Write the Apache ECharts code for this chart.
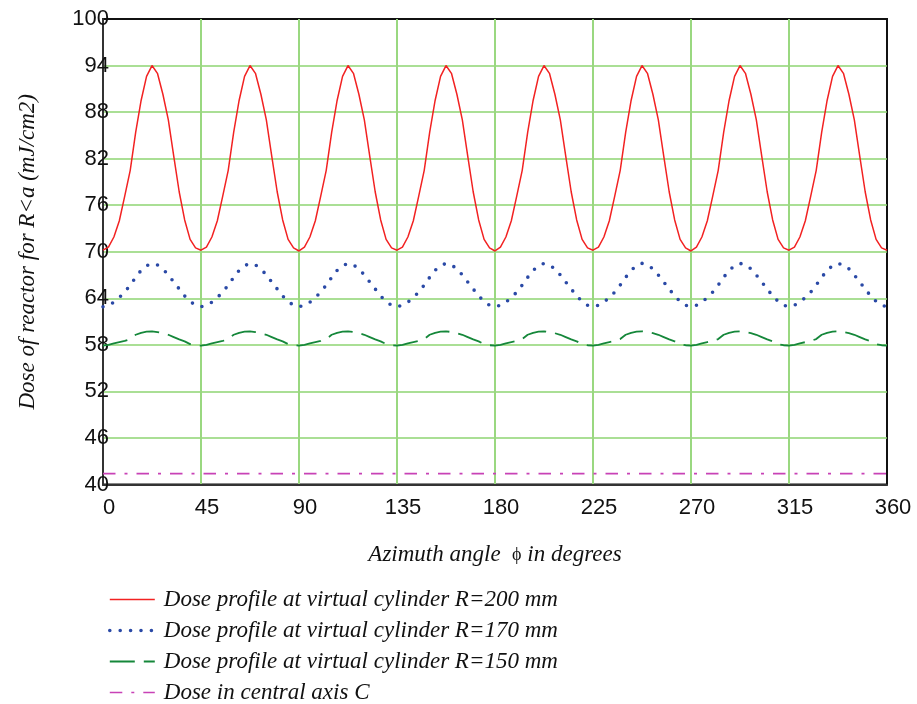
<!DOCTYPE html>
<html>
<head>
<meta charset="utf-8">
<script src="https://cdn.jsdelivr.net/npm/echarts@6/dist/echarts.min.js"></script>
<style>
  html, body { margin: 0; padding: 0; background: #fff; }
  #chart { width: 917px; height: 704px; }
</style>
</head>
<body>
<div id="chart"></div>
<script>
// azimuth sample positions (degrees)
const angles = [
  0, 2.5, 5, 7.5, 10, 12.5, 15, 17.5, 20, 22.5, 25, 27.5, 30, 32.5, 35, 37.5, 40, 42.5,
  45, 47.5, 50, 52.5, 55, 57.5, 60, 62.5, 65, 67.5, 70, 72.5, 75, 77.5, 80, 82.5, 85, 87.5,
  90, 92.5, 95, 97.5, 100, 102.5, 105, 107.5, 110, 112.5, 115, 117.5, 120, 122.5, 125, 127.5, 130, 132.5,
  135, 137.5, 140, 142.5, 145, 147.5, 150, 152.5, 155, 157.5, 160, 162.5, 165, 167.5, 170, 172.5, 175, 177.5,
  180, 182.5, 185, 187.5, 190, 192.5, 195, 197.5, 200, 202.5, 205, 207.5, 210, 212.5, 215, 217.5, 220, 222.5,
  225, 227.5, 230, 232.5, 235, 237.5, 240, 242.5, 245, 247.5, 250, 252.5, 255, 257.5, 260, 262.5, 265, 267.5,
  270, 272.5, 275, 277.5, 280, 282.5, 285, 287.5, 290, 292.5, 295, 297.5, 300, 302.5, 305, 307.5, 310, 312.5,
  315, 317.5, 320, 322.5, 325, 327.5, 330, 332.5, 335, 337.5, 340, 342.5, 345, 347.5, 350, 352.5, 355, 357.5,
  360
];

// R = 200 mm
const doseR200 = [
  70.2, 70.6, 71.9, 74.0, 77.2, 80.5, 85.4, 89.5, 92.6, 94.0, 93.0, 90.3, 87.0, 82.3, 77.7, 74.1, 71.6, 70.5,
  70.2, 70.6, 71.9, 74.0, 77.2, 80.5, 85.4, 89.5, 92.6, 94.0, 93.0, 90.3, 87.0, 82.3, 77.7, 74.1, 71.6, 70.5,
  70.1, 70.6, 71.9, 74.0, 77.2, 80.5, 85.4, 89.5, 92.6, 94.0, 93.0, 90.3, 87.0, 82.3, 77.7, 74.1, 71.6, 70.5,
  70.2, 70.6, 71.9, 74.0, 77.2, 80.5, 85.4, 89.5, 92.6, 94.0, 93.0, 90.3, 87.0, 82.3, 77.7, 74.1, 71.6, 70.5,
  70.1, 70.6, 71.9, 74.0, 77.2, 80.5, 85.4, 89.5, 92.6, 94.0, 93.0, 90.3, 87.0, 82.3, 77.7, 74.1, 71.6, 70.5,
  70.2, 70.6, 71.9, 74.0, 77.2, 80.5, 85.4, 89.5, 92.6, 94.0, 93.0, 90.3, 87.0, 82.3, 77.7, 74.1, 71.6, 70.5,
  70.1, 70.6, 71.9, 74.0, 77.2, 80.5, 85.4, 89.5, 92.6, 94.0, 93.0, 90.3, 87.0, 82.3, 77.7, 74.1, 71.6, 70.5,
  70.2, 70.6, 71.9, 74.0, 77.2, 80.5, 85.4, 89.5, 92.6, 94.0, 93.0, 90.3, 87.0, 82.3, 77.7, 74.1, 71.6, 70.5,
  70.2
];

// R = 170 mm
const doseR170 = [
  62.9, 63.1, 63.5, 64.1, 64.8, 65.7, 66.7, 67.6, 68.2, 68.5, 68.3, 67.8, 67.0, 66.1, 65.2, 64.3, 63.6, 63.1,
  62.9, 63.1, 63.5, 64.1, 64.8, 65.7, 66.7, 67.6, 68.2, 68.5, 68.3, 67.8, 67.0, 66.1, 65.2, 64.3, 63.6, 63.1,
  62.9, 63.1, 63.5, 64.1, 64.8, 65.7, 66.7, 67.6, 68.2, 68.5, 68.3, 67.8, 67.0, 66.1, 65.2, 64.3, 63.6, 63.1,
  62.9, 63.1, 63.5, 64.1, 64.8, 65.7, 66.7, 67.6, 68.2, 68.5, 68.3, 67.8, 67.0, 66.1, 65.2, 64.3, 63.6, 63.1,
  62.9, 63.1, 63.5, 64.1, 64.8, 65.7, 66.7, 67.6, 68.2, 68.5, 68.3, 67.8, 67.0, 66.1, 65.2, 64.3, 63.6, 63.1,
  62.9, 63.1, 63.5, 64.1, 64.8, 65.7, 66.7, 67.6, 68.2, 68.5, 68.3, 67.8, 67.0, 66.1, 65.2, 64.3, 63.6, 63.1,
  62.9, 63.1, 63.5, 64.1, 64.8, 65.7, 66.7, 67.6, 68.2, 68.5, 68.3, 67.8, 67.0, 66.1, 65.2, 64.3, 63.6, 63.1,
  62.9, 63.1, 63.5, 64.1, 64.8, 65.7, 66.7, 67.6, 68.2, 68.5, 68.3, 67.8, 67.0, 66.1, 65.2, 64.3, 63.6, 63.1,
  62.9
];

// R = 150 mm
const doseR150 = [
  57.9, 58.0, 58.2, 58.35, 58.5, 58.75, 59.3, 59.55, 59.7, 59.75, 59.65, 59.5, 59.3, 59.0, 58.7, 58.45, 58.1, 57.95,
  57.9, 58.0, 58.2, 58.35, 58.5, 58.75, 59.3, 59.55, 59.7, 59.75, 59.65, 59.5, 59.3, 59.0, 58.7, 58.45, 58.1, 57.95,
  57.9, 58.0, 58.2, 58.35, 58.5, 58.75, 59.3, 59.55, 59.7, 59.75, 59.65, 59.5, 59.3, 59.0, 58.7, 58.45, 58.1, 57.95,
  57.9, 58.0, 58.2, 58.35, 58.5, 58.75, 59.3, 59.55, 59.7, 59.75, 59.65, 59.5, 59.3, 59.0, 58.7, 58.45, 58.1, 57.95,
  57.9, 58.0, 58.2, 58.35, 58.5, 58.75, 59.3, 59.55, 59.7, 59.75, 59.65, 59.5, 59.3, 59.0, 58.7, 58.45, 58.1, 57.95,
  57.9, 58.0, 58.2, 58.35, 58.5, 58.75, 59.3, 59.55, 59.7, 59.75, 59.65, 59.5, 59.3, 59.0, 58.7, 58.45, 58.1, 57.95,
  57.9, 58.0, 58.2, 58.35, 58.5, 58.75, 59.3, 59.55, 59.7, 59.75, 59.65, 59.5, 59.3, 59.0, 58.7, 58.45, 58.1, 57.95,
  57.9, 58.0, 58.2, 58.35, 58.5, 58.75, 59.3, 59.55, 59.7, 59.75, 59.65, 59.5, 59.3, 59.0, 58.7, 58.45, 58.1, 57.95,
  57.9
];

// central axis C
const centralAngles = [0, 360];
const centralDose = [41.4, 41.4];

const seriesNames = [
  'Dose profile at virtual cylinder R=200 mm',
  'Dose profile at virtual cylinder R=170 mm',
  'Dose profile at virtual cylinder R=150 mm',
  'Dose in central axis C'
];

const colors = ['#f22222', '#2a49a6', '#15873a', '#c842b6'];
const lineStyles = [
  { color: colors[0], width: 1.5, type: 'solid' },
  { color: colors[1], width: 3.6, type: [0, 10.4], cap: 'round' },
  { color: colors[2], width: 1.8, type: [25, 9] },
  { color: colors[3], width: 1.6, type: [12.5, 9, 3, 9] }
];

const pairs = (xs, ys) => xs.map((x, i) => [x, ys[i]]);

const chart = echarts.init(document.getElementById('chart'), null, { renderer: 'canvas' });

const serif = '"Liberation Serif", "Times New Roman", serif';
const sans = '"Liberation Sans", Arial, sans-serif';

const option = {
  backgroundColor: '#fff',
  animation: false,
  grid: {
    left: 103,
    right: 30,
    top: 19,
    bottom: 219.5,
    show: true,
    borderColor: '#111',
    borderWidth: 2
  },
  legend: {
    orient: 'vertical',
    left: 108,
    top: 588,
    height: 160,
    padding: 0,
    itemWidth: 45,
    itemHeight: 14,
    itemGap: 8,
    itemStyle: { opacity: 0 },
    data: seriesNames.map((name, i) => ({ name, lineStyle: lineStyles[i] })),
    textStyle: {
      fontFamily: serif,
      fontStyle: 'italic',
      fontSize: 23,
      lineHeight: 23,
      color: '#111',
      padding: [0, 0, 0, 4]
    }
  },
  xAxis: {
    type: 'value',
    min: 0,
    max: 360,
    interval: 45,
    name: '{t|Azimuth angle  }{phi|ϕ}{t| in degrees}',
    nameLocation: 'middle',
    nameGap: 59,
    nameTextStyle: {
      rich: {
        t: { fontFamily: serif, fontStyle: 'italic', fontSize: 23, color: '#111' },
        phi: { fontFamily: serif, fontStyle: 'normal', fontSize: 18, color: '#111' }
      }
    },
    axisLine: { show: true, lineStyle: { color: '#333', width: 2 } },
    axisTick: { show: false },
    axisLabel: {
      color: '#111',
      fontFamily: sans,
      fontSize: 22,
      margin: 12,
      padding: [0, 0, 0, 12]
    },
    splitLine: {
      show: true,
      showMinLine: false,
      showMaxLine: false,
      lineStyle: { color: '#9ad880', width: 2 }
    }
  },
  yAxis: {
    type: 'value',
    min: 40,
    max: 100,
    interval: 6,
    name: 'Dose of reactor for R<a (mJ/cm2)',
    nameLocation: 'middle',
    nameGap: 64,
    nameTextStyle: {
      fontFamily: serif,
      fontStyle: 'italic',
      fontSize: 23,
      color: '#111'
    },
    axisLine: { show: true, lineStyle: { color: '#333', width: 2 } },
    axisTick: { show: false },
    axisLabel: {
      color: '#111',
      fontFamily: sans,
      fontSize: 22,
      margin: -6
    },
    splitLine: {
      show: true,
      showMinLine: false,
      showMaxLine: false,
      lineStyle: { color: '#8ed472', width: 1.5 }
    }
  },
  series: seriesNames.map((name, i) => ({
    name,
    type: 'line',
    data: [
      pairs(angles, doseR200),
      pairs(angles, doseR170),
      pairs(angles, doseR150),
      pairs(centralAngles, centralDose)
    ][i],
    symbol: 'none',
    lineStyle: lineStyles[i],
    itemStyle: { color: colors[i] }
  }))
};

chart.setOption(option);
window.addEventListener('resize', () => chart.resize());
</script>
</body>
</html>
